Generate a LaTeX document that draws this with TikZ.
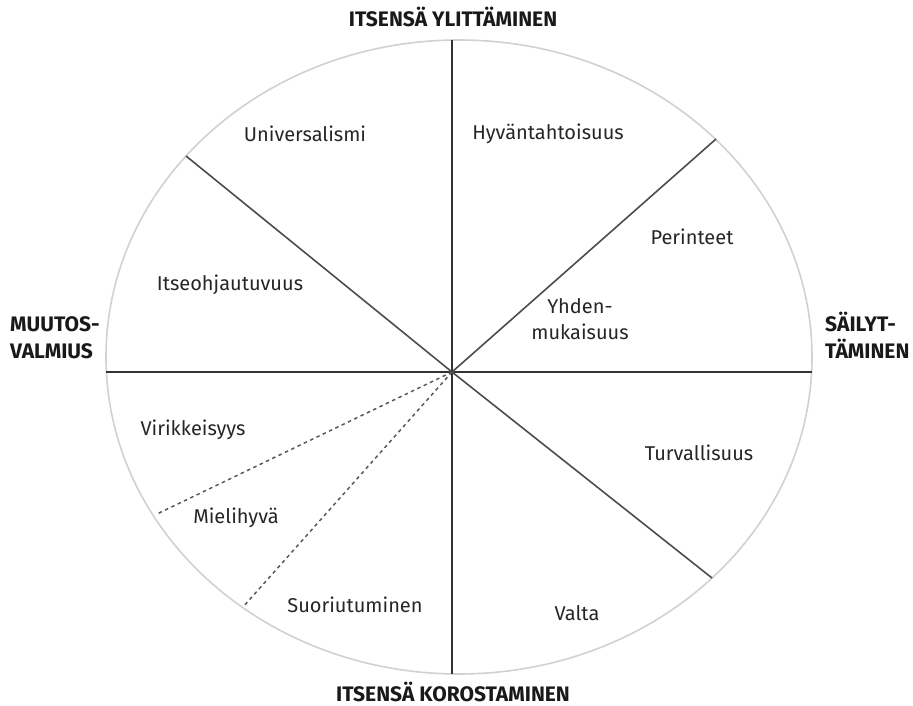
\documentclass[tikz,border=0pt]{standalone}
\usepackage{fontspec}
\setmainfont{Fira Sans}
\begin{document}
\begin{tikzpicture}[x=1pt,y=-1pt,
  rim/.style={draw=black!18,line width=1.6pt},
  axis/.style={draw=black!80,line width=1.6pt},
  spoke/.style={draw=black!70,line width=1.6pt},
  dots/.style={draw=black!65,line width=1.5pt,dash pattern=on 3.5pt off 3.5pt},
  lab/.style={font=\fontsize{20}{26}\selectfont,text=black!85,align=center,inner sep=0pt},
  head/.style={font=\fontsize{21}{27}\bfseries\selectfont,text=black!90,inner sep=0pt}]
\useasboundingbox (0,0) rectangle (913,706);
\draw[rim] (459,357) ellipse [x radius=353, y radius=317];
\coordinate (c) at (452,372);
\coordinate (t) at (452,40);
\coordinate (b) at (452,674);
\coordinate (l) at (106,372);
\coordinate (r) at (812,372);
\coordinate (ul) at (186,156);
\coordinate (ur) at (716,139);
\coordinate (lr) at (712,578);
\coordinate (d1) at (157,514);
\coordinate (d2) at (243,607);
\draw[axis] (t) -- (b);
\draw[axis] (l) -- (r);
\draw[spoke] (c) -- (ul);
\draw[spoke] (c) -- (ur);
\draw[spoke] (c) -- (lr);
\draw[dots] (c) -- (d1);
\draw[dots] (c) -- (d2);
\node[head,anchor=base] (h1) at (453,27) {ITSENSÄ YLITTÄMINEN};
\node[head,anchor=base] (h2) at (453,701) {ITSENSÄ KOROSTAMINEN};
\node[head,anchor=base west,align=left] (h3) at (10,358) {MUUTOS-\\VALMIUS};
\node[head,anchor=base west,align=left] (h4) at (825,358) {SÄILYT-\\TÄMINEN};
\node[lab] (n1) at (305,134) {Universalismi};
\node[lab] (n2) at (548,134) {Hyväntahtoisuus};
\node[lab] (n3) at (692,237) {Perinteet};
\node[lab] (n4) at (230,285) {Itseohjautuvuus};
\node[lab] (n5) at (580,319) {Yhden-\\mukaisuus};
\node[lab] (n6) at (193,430) {Virikkeisyys};
\node[lab] (n7) at (699,453) {Turvallisuus};
\node[lab] (n8) at (236,518) {Mielihyvä};
\node[lab] (n9) at (355,605) {Suoriutuminen};
\node[lab] (n10) at (577,613) {Valta};
\end{tikzpicture}
\end{document}
